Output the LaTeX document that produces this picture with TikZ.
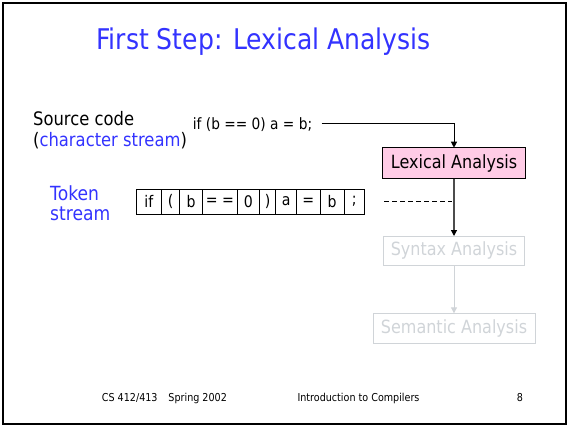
\documentclass[tikz,border=0pt]{standalone}
\usepackage{fontspec}
\setmainfont{DejaVu Sans}[FakeStretch=0.88]
\usetikzlibrary{arrows.meta}
\usetikzlibrary{positioning}

\definecolor{titleblue}{RGB}{51,51,255}
\definecolor{lexpink}{RGB}{255,204,230}
\definecolor{fadegray}{RGB}{208,212,216}

\begin{document}
\begin{tikzpicture}[x=1pt,y=-1pt,
  phase/.style={rectangle,draw,line width=1pt,inner sep=0pt,outer sep=0pt,font=\fontsize{18.2}{20}\selectfont},
  tokcell/.style={rectangle,draw,line width=0.8pt,minimum height=25pt,inner sep=0pt,outer sep=0pt,font=\fontsize{16}{18}\selectfont}]
\useasboundingbox (0,0) rectangle (568,426);
% slide frame
\draw[line width=2pt] (2.5,2.5) rectangle (565.5,423.5);

% Title
\node[text=titleblue,font=\fontsize{28.5}{32}\selectfont,anchor=base] (title) at (263.5,49) {First Step: Lexical Analysis};

% Source code
\node[anchor=base west,inner sep=0pt,font=\fontsize{18.6}{20}\selectfont] (src) at (33,125) {Source code};
\node[anchor=base west,inner sep=0pt,font=\fontsize{18.6}{20}\selectfont] (chars) at (33,146.7) {(\textcolor{titleblue}{character stream})};
\node[anchor=base west,inner sep=0pt,font=\fontsize{15.6}{17}\selectfont] (code) at (192.7,129) {if (b == 0) a = b;};
\coordinate (c1) at (321.7,123.3);

% Phases
\node[phase,fill=lexpink,minimum width=142.6pt,minimum height=31pt] (lex) at (454,163.2) {Lexical Analysis};
\node[phase,draw=fadegray,text=fadegray,minimum width=141.7pt,minimum height=29.3pt,below=57.3pt of lex] (syn) {Syntax Analysis};
\node[phase,draw=fadegray,text=fadegray,minimum width=162pt,minimum height=30pt,below=48pt of syn] (sem) {Semantic Analysis};

\draw[line width=1pt,-{Triangle[black,length=6pt,width=6pt]}] (c1) -| (lex.north);
\draw[line width=1.2pt,black!70,-{Triangle[black,length=6pt,width=6pt]}] (lex.south) -- (syn.north);
\draw[line width=1pt,fadegray,-{Triangle[fadegray,length=6pt,width=6pt]}] (syn.south) -- (sem.north);

% Token stream
\node[anchor=base west,inner sep=0pt,text=titleblue,font=\fontsize{19.5}{21}\selectfont] (tok) at (50,200) {Token};
\node[anchor=base west,inner sep=0pt,text=titleblue,font=\fontsize{19.5}{21}\selectfont] (stream) at (50,220.7) {stream};

\foreach \t/\l/\r [count=\i] in {if/136/161.7,{(}/161.7/179.3,b/179.3/202.7,{= =}/202.7/237.3,0/237.3/259.3,{)}/259.3/275.7,a/275.7/296.7,=/296.7/320,b/320/344.3,;/344.3/364.3}
  \node[tokcell,minimum width={\r-\l}] (tok\i) at ({(\l+\r)/2},201.5) {\t};

\draw[line width=1pt,dash pattern=on 5pt off 3pt] ([xshift=19.7pt]tok10.east) -- ([xshift=-2pt]lex.south |- tok10.east);

% Footer
\node[anchor=base west,inner sep=0pt,font=\fontsize{10.9}{12}\selectfont] (course) at (101.7,401.7) {CS 412/413\quad Spring 2002};
\node[anchor=base west,inner sep=0pt,font=\fontsize{10.9}{12}\selectfont] (intro) at (297.3,401.7) {Introduction to Compilers};
\node[anchor=base west,inner sep=0pt,font=\fontsize{10.9}{12}\selectfont] (page) at (516.7,401.7) {8};

\end{tikzpicture}
\end{document}
